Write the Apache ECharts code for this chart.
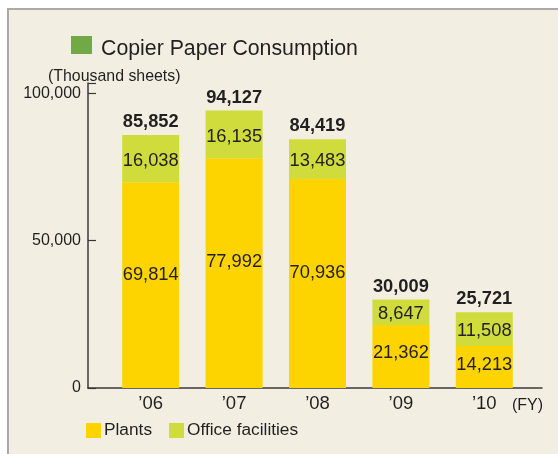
<!DOCTYPE html>
<html>
<head>
<meta charset="utf-8">
<script src="https://cdn.jsdelivr.net/npm/echarts@6/dist/echarts.min.js"></script>
<style>
  body { margin: 0; background: #fff; }
  .frame {
    position: absolute; left: 7px; top: 8px; width: 560px; height: 460px;
    background: #f2efe2; border-top: 2px solid #aaaaaa; border-left: 2px solid #aaaaaa;
  }
  #chart { position: absolute; left: 0; top: 0; width: 558px; height: 454px; }
</style>
</head>
<body>
<div class="frame"></div>
<div id="chart"></div>
<script>
const years = ["\u201906", "\u201907", "\u201908", "\u201909", "\u201910"];
const plants = [69814, 77992, 70936, 21362, 14213];
const offices = [16038, 16135, 13483, 8647, 11508];
const totals = [85852, 94127, 84419, 30009, 25721];
const yTicks = [0, 50000, 100000];

const font = "'Liberation Sans', Arial, sans-serif";
const ink = "#231f20";
const yMax = 103500;

const chart = echarts.init(document.getElementById("chart"));
const fmt = (v) => v.toLocaleString("en-US");

const option = {
  backgroundColor: "transparent",
  animation: false,
  textStyle: { fontFamily: font, color: ink },
  title: [
    {
      text: "Copier Paper Consumption",
      left: 96, top: 34,
      textStyle: { fontFamily: font, fontSize: 21.3, fontWeight: "normal", color: ink },
    },
    {
      text: "(Thousand sheets)",
      left: 43, top: 64,
      textStyle: { fontFamily: font, fontSize: 15.9, fontWeight: "normal", color: ink },
    },
    {
      text: "(FY)",
      left: 507, top: 393,
      textStyle: { fontFamily: font, fontSize: 16, fontWeight: "normal", color: ink },
    },
  ],
  graphic: [
    { type: "rect", left: 71, top: 36, shape: { width: 21, height: 18 }, style: { fill: "#71a944" } },
  ],
  legend: {
    data: ["Plants", "Office facilities"],
    left: 81, top: 417,
    icon: "rect",
    itemWidth: 15, itemHeight: 15, itemGap: 17,
    textStyle: { fontFamily: font, fontSize: 17.3, color: ink, padding: [0, 0, 0, -2] },
  },
  grid: [
    { left: 88, right: 16, top: 83, bottom: 66 },
    { left: 109, right: 32, top: 83, bottom: 66 },
  ],
  xAxis: [
    {
      gridIndex: 0, type: "value", min: 0, max: 1,
      axisLine: { show: true, lineStyle: { color: "#3b3838", width: 1.5 } },
      axisTick: { show: false }, axisLabel: { show: false }, splitLine: { show: false },
    },
    {
      gridIndex: 1, type: "category", data: years,
      axisLine: { show: false }, axisTick: { show: false },
      axisLabel: { margin: 6, fontFamily: font, fontSize: 18.5, color: ink },
    },
  ],
  yAxis: [
    {
      gridIndex: 0, type: "value", min: yTicks[0], max: yMax, interval: yTicks[1] - yTicks[0],
      axisLine: { show: true, lineStyle: { color: "#3b3838", width: 1.5 } },
      axisTick: { show: true, inside: true, length: 8, lineStyle: { color: "#3b3838", width: 1.2 } },
      axisLabel: {
        margin: 7, fontFamily: font, fontSize: 16, color: ink,
        formatter: (v) => (yTicks.includes(v) ? fmt(v) : ""),
      },
      splitLine: { show: false },
    },
    { gridIndex: 1, type: "value", min: 0, max: yMax, show: false },
  ],
  series: [
    {
      name: "Plants", type: "bar", stack: "total",
      xAxisIndex: 1, yAxisIndex: 1, barWidth: 57,
      itemStyle: { color: "#fdd300" },
      label: {
        show: true, position: ["50%", "45%"], align: "center", verticalAlign: "middle",
        fontFamily: font, fontSize: 18.3, color: ink, formatter: (p) => fmt(p.value),
      },
      data: plants,
    },
    {
      name: "Office facilities", type: "bar", stack: "total",
      xAxisIndex: 1, yAxisIndex: 1, barWidth: 57,
      itemStyle: { color: "#cfdc3c" },
      label: {
        show: true, position: ["50%", "55%"], align: "center", verticalAlign: "middle",
        fontFamily: font, fontSize: 18.3, color: ink, formatter: (p) => fmt(p.value),
      },
      data: offices,
    },
    {
      name: "Total", type: "bar",
      xAxisIndex: 1, yAxisIndex: 1, barWidth: 57, barGap: "-100%", z: 1,
      itemStyle: { color: "rgba(0,0,0,0)" },
      label: {
        show: true, position: "top", distance: 4,
        fontFamily: font, fontSize: 18.3, fontWeight: "bold", color: ink,
        formatter: (p) => fmt(p.value),
      },
      data: totals,
    },
  ],
};
chart.setOption(option);
</script>
</body>
</html>
